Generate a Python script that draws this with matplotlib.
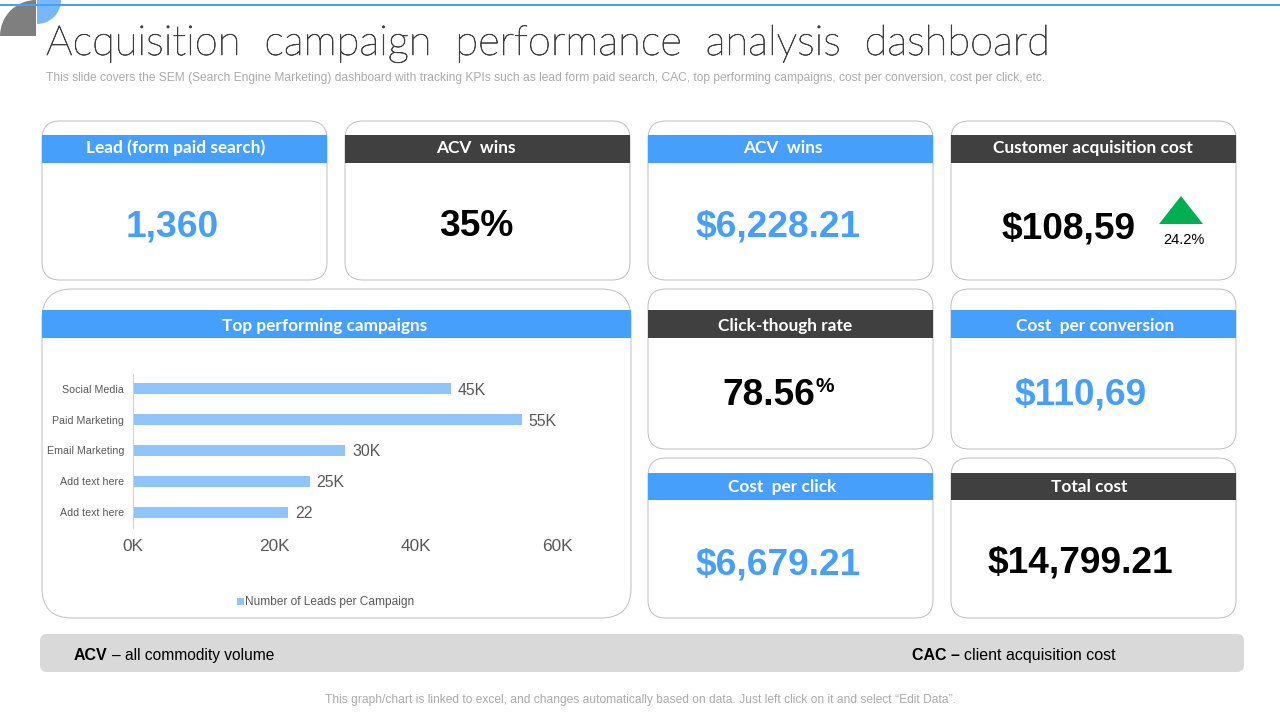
import matplotlib
matplotlib.use('Agg')
from matplotlib import pyplot as plt
from matplotlib import patheffects
from matplotlib.patches import FancyBboxPatch, Rectangle, Polygon, Wedge

BLUE = '#479FFC'
DARK = '#404040'
EDGE = '#BFBFBF'
BAR = '#90C4FB'

# top performing campaigns, thousands of leads
campaigns = ['Social Media', 'Paid Marketing', 'Email Marketing', 'Add text here', 'Add text here']
leads = [45, 55, 30, 25, 22]
lead_labels = ['45K', '55K', '30K', '25K', '22']
x_ticks = [0, 20, 40, 60]
x_tick_labels = ['0K', '20K', '40K', '60K']

card_titles = ['Lead (form paid search)', 'ACV  wins', 'ACV  wins', 'Customer acquisition cost',
               'Click-though rate', 'Cost  per conversion', 'Cost  per click', 'Total cost']
card_values = ['1,360', '35%', '$6,228.21', '$108,59', '78.56', '$110,69', '$6,679.21', '$14,799.21']

fig = plt.figure(figsize=(12.8, 7.2), dpi=100)
bg = fig.add_axes([0, 0, 1, 1])
bg.set_xlim(0, 1280)
bg.set_ylim(720, 0)
bg.axis('off')


def rounded(x0, y0, x1, y1, r, **kw):
    p = FancyBboxPatch((x0 + r, y0 + r), x1 - x0 - 2 * r, y1 - y0 - 2 * r,
                       boxstyle='round,pad=%g,rounding_size=%g' % (r, r), **kw)
    bg.add_patch(p)


def card(box, head, title, value, tx, ty, vx, vy, head_color, val_color, r=18):
    x0, y0, x1, y1 = box
    rounded(x0, y0, x1, y1, r, fc='white', ec=EDGE, lw=0.7)
    bg.add_patch(Rectangle((x0, head[0]), x1 - x0, head[1] - head[0], fc=head_color, ec='none'))
    bg.text(tx, ty, title, color='white', fontsize=12.4, fontweight='bold',
            family='Lato', ha='center', va='baseline')
    if value:
        bg.text(vx, vy, value, color=val_color, fontsize=26.7, fontweight='bold',
                family='Liberation Sans', ha='center', va='baseline')


# decoration at the top corner
bg.add_patch(Wedge((37, 0), 24, 0, 90, fc='#79B7FB', ec='none'))
bg.add_patch(Wedge((36, 36), 36, 180, 270, fc='#7F7F7F', ec='none'))
bg.add_patch(Rectangle((0, 3.5), 1280, 2, fc=BLUE, ec='none'))

title = bg.text(46, 44, 'Acquisition  campaign  performance  analysis  dashboard', fontsize=30.1, color='#404040',
                family='Lato', fontweight='light', va='center', ha='left')
# Lato Light is thinner than the slide's font
title.set_path_effects([patheffects.withStroke(linewidth=0.5, foreground='#404040')])
bg.text(46, 78, 'This slide covers the SEM (Search Engine Marketing) dashboard with tracking KPIs such as '
        'lead form paid search, CAC, top performing campaigns, cost per conversion, cost per click, etc.',
        fontsize=8.66, color='#ABABAB', family='Liberation Sans', va='center', ha='left')

card((42, 121, 327, 280), (135, 163), card_titles[0], card_values[0], 176, 153, 172, 236, BLUE, BLUE)
card((345, 121, 630, 280), (135, 163), card_titles[1], card_values[1], 476, 153, 476, 236, DARK, 'black')
card((648, 121, 933, 280), (135, 163), card_titles[2], card_values[2], 783, 153, 778, 236, BLUE, BLUE)
card((951, 121, 1236, 280), (135, 163), card_titles[3], card_values[3], 1093, 153, 1069, 238, DARK, 'black')
card((648, 289, 933, 449), (310, 338), card_titles[4], card_values[4], 785, 331, 769, 405, DARK, 'black')
card((951, 289, 1236, 449), (310, 338), card_titles[5], card_values[5], 1095, 331, 1081, 405, BLUE, BLUE)
card((648, 458, 933, 618), (473, 500), card_titles[6], card_values[6], 782, 492, 778, 574, BLUE, BLUE)
card((951, 458, 1236, 618), (473, 500), card_titles[7], card_values[7], 1089, 492, 1080, 573, DARK, 'black')
card((42, 289, 631, 618), (310, 338), 'Top performing campaigns', '', 325, 331, 0, 0, BLUE, BLUE, r=30)

bg.text(825, 387, '%', fontsize=15, fontweight='bold', family='Liberation Sans', color='black',
        ha='center', va='center')
bg.add_patch(Polygon([(1159, 224), (1203, 224), (1181, 196)], fc='#00B050', ec='none'))
bg.text(1184, 240, '24.2%', fontsize=10.5, family='Liberation Sans', color='black', ha='center', va='center')

# bar chart, placed on the slide in pixels
ax_x0, ax_x1, ax_y0, ax_y1 = 133.0, 557.0, 373.5, 527.5
ax = fig.add_axes([ax_x0 / 1280, 1 - ax_y1 / 720, (ax_x1 - ax_x0) / 1280, (ax_y1 - ax_y0) / 720])
ax.patch.set_alpha(0)
ypos = list(range(len(leads)))
ax.barh(ypos, leads, height=0.36, color=BAR)
ax.set_xlim(0, 60)
ax.set_ylim(len(leads) - 0.5, -0.5)
for s in ['top', 'right', 'bottom']:
    ax.spines[s].set_visible(False)
ax.spines['left'].set_color('#D0D0D0')
ax.spines['left'].set_linewidth(0.7)
ax.set_yticks(ypos)
ax.set_yticklabels(campaigns, fontsize=7.7, color='#595959', family='Liberation Sans')
ax.set_xticks(x_ticks)
ax.set_xticklabels(x_tick_labels, fontsize=12.4, color='#595959', family='Liberation Sans')
ax.tick_params(axis='both', length=0)
ax.tick_params(axis='y', pad=6.5)
ax.tick_params(axis='x', pad=8.5)
for y, v, lab in zip(ypos, leads, lead_labels):
    ax.annotate(lab, (v, y), xytext=(5, -1), textcoords='offset points', fontsize=11.4, color='#595959',
                family='Liberation Sans', va='center', ha='left')

# legend
bg.add_patch(Rectangle((237, 598), 6.5, 7, fc=BAR, ec='none'))
bg.text(245, 602.5, 'Number of Leads per Campaign', fontsize=8.6, color='#595959',
        family='Liberation Sans', va='center', ha='left')

# footer strip
rounded(40, 634, 1244, 672, 7, fc='#D9D9D9', ec='none')
bg.text(74, 660, 'ACV', fontsize=11.5, fontweight='bold', color='black', family='Liberation Sans', va='baseline')
bg.text(112, 660, '– all commodity volume', fontsize=11.2, color='black', family='Liberation Sans', va='baseline', ha='left')
bg.text(912, 660, 'CAC –', fontsize=11.5, fontweight='bold', color='black', family='Liberation Sans', va='baseline')
bg.text(964, 660, 'client acquisition cost', fontsize=11.5, color='black', family='Liberation Sans', va='baseline', ha='left')
bg.text(640.5, 699.5, 'This graph/chart is linked to excel, and changes automatically based on data. Just left click on it and select “Edit Data”.',
        fontsize=8.68, color='#ABABAB', family='Liberation Sans', va='center', ha='center')

fig.savefig('out.png', dpi=100)
